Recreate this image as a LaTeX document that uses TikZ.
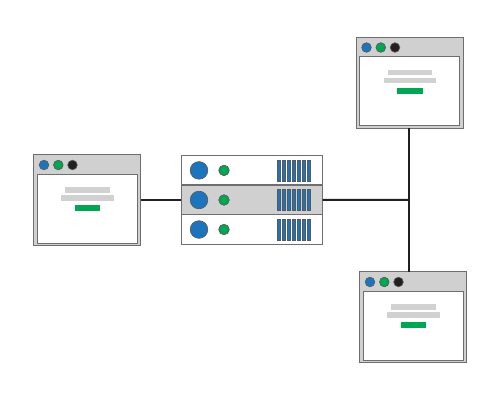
\documentclass[tikz,border=0pt]{standalone}
\definecolor{bluefill}{HTML}{1C75BC}
\definecolor{greenfill}{HTML}{00A651}
\definecolor{panelgray}{HTML}{D0D0D0}
\definecolor{barlight}{HTML}{D1D1D1}
\definecolor{edgegray}{HTML}{6D6E71}
\definecolor{slotedge}{HTML}{58595B}
\definecolor{inkblack}{HTML}{231F20}
\tikzset{
  x=0.75pt,y=-0.75pt,
  edge/.style={draw=edgegray,line width=0.7pt},
  link/.style={draw=inkblack,line width=1.5pt},
  windowbox/.style={edge,fill=panelgray,minimum width=80.25pt,minimum height=68.25pt,inner sep=0pt,outer sep=0pt},
  rowbox/.style={edge,minimum width=106.1pt,minimum height=22.1pt,inner sep=0pt,outer sep=0pt},
  dotmark/.style={draw=slotedge,line width=0.5pt,circle,inner sep=0pt,outer sep=0pt,minimum size=7.2pt},
  bigdot/.style={draw=slotedge,line width=0.5pt,circle,fill=bluefill,inner sep=0pt,outer sep=0pt,minimum size=13.2pt},
  smalldot/.style={draw=slotedge,line width=0.5pt,circle,fill=greenfill,inner sep=0pt,outer sep=0pt,minimum size=7.9pt},
  slot/.style={fill=bluefill,draw=slotedge,line width=0.3pt,minimum width=2.4pt,minimum height=15.6pt,inner sep=0pt,outer sep=0pt},
  webwindow/.pic={
    \node[windowbox] (-outer) at (53.5,45.5) {};
    \node[edge,fill=white,minimum width=75pt,minimum height=51.75pt,inner sep=0pt,outer sep=0pt] (-inner) at (53.5,54) {};
    \node[dotmark,fill=bluefill] (-d1) at (10.5,10.5) {};
    \node[dotmark,fill=greenfill] (-d2) at (24.8,10.5) {};
    \node[dotmark,fill=inkblack] (-d3) at (39,10.5) {};
    \fill[barlight] (31.5,32.5) rectangle (76,38);
    \fill[barlight] (27.5,40.5) rectangle (80,46);
    \fill[greenfill] (41,50.5) rectangle (66.5,56.5);
  },
  serverrow/.pic={
    \node[bigdot] (-big) at (17.5,0) {};
    \node[smalldot] (-small) at (42.5,0) {};
    \foreach \i in {0,...,6} {\node[slot] (-s\i) at (97+5.05*\i,0) {};}
  }
}
\begin{document}
\begin{tikzpicture}
\useasboundingbox (0,0) rectangle (500,400);
\fill[white] (0,0) rectangle (500,400);
\coordinate (hub) at (409,200);
\pic (wa) at (33.5,154.5) {webwindow};
\pic (wb) at (356,37) {webwindow};
\pic (wc) at (359.5,271.5) {webwindow};
\node[rowbox,fill=white] (r1) at (252,170.2) {};
\node[rowbox,fill=white] (r3) at (252,229.4) {};
\node[rowbox,fill=panelgray] (r2) at (252,199.8) {};
\pic (p1) at (181.5,170.4) {serverrow};
\pic (p2) at (181.5,200) {serverrow};
\pic (p3) at (181.5,229.5) {serverrow};
\draw[link] (wa-outer.east |- r2.west) -- (r2.west);
\draw[link] (r2.east) -- (hub);
\draw[link] (wb-outer.south -| hub) -- (hub);
\draw[link] (wc-outer.north -| hub) -- (hub);
\end{tikzpicture}
\end{document}
